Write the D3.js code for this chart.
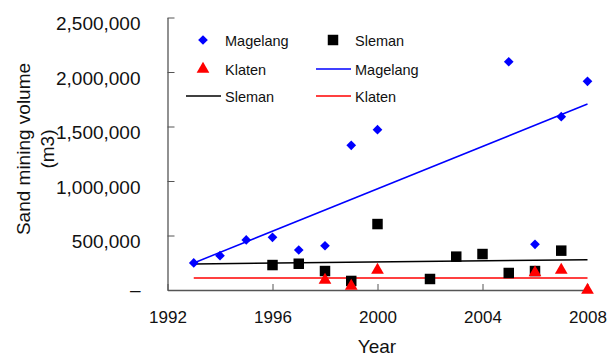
<!DOCTYPE html>
<html>
<head>
<meta charset="utf-8">
<script src="https://cdn.jsdelivr.net/npm/d3@7"></script>
<style>
  body { margin: 0; background: #fff; }
  text { font-family: "Liberation Sans", Arial, sans-serif; fill: #111; }
</style>
</head>
<body>
<div id="chart"></div>
<script>
// values
var magelangYears = [1993, 1994, 1995, 1996, 1997, 1998, 1999, 2000, 2005, 2006, 2007, 2008];
var magelangVals = [248000, 315000, 459000, 483000, 367000, 406000, 1327000, 1471000, 2094000, 419000, 1590000, 1914000];

var slemanYears = [1996, 1997, 1998, 1999, 2000, 2002, 2003, 2004, 2005, 2006, 2007];
var slemanVals = [229000, 241000, 174000, 83000, 605000, 101000, 306000, 330000, 156000, 174000, 361000];

var klatenYears = [1998, 1999, 2000, 2006, 2007, 2008];
var klatenVals = [92000, 37000, 183000, 159000, 183000, 0];

// trend lines, start and end (1993, 2008)
var trendYears = [1993, 2008];
var magelangTrend = [248000, 1706000];
var slemanTrend = [239000, 278000];
var klatenTrend = [110000, 110000];

var xTicks = [1992, 1996, 2000, 2004, 2008];
var yTicks = [0, 500000, 1000000, 1500000, 2000000, 2500000];

function sandChart() {
	var width = 607, height = 356;
	var left = 167.5, right = 587.5, top = 17.5, bottom = 290;

	var svg = d3.select('#chart').append('svg')
		.attr('width', width)
		.attr('height', height);

	var x = d3.scaleLinear().domain([1992, 2008]).range([left, right]);
	var y = d3.scaleLinear().domain([0, 2500000]).range([bottom, top]);

	// axes
	var yAxis = d3.axisLeft(y).tickValues(yTicks).tickSizeInner(-7).tickSizeOuter(0)
		.tickFormat(function(d) { return d === 0 ? '\u2013' : d3.format(',')(d); });
	var gy = svg.append('g').attr('transform', 'translate(' + left + ',0)').call(yAxis);
	gy.select('.domain').attr('stroke', '#555').attr('stroke-width', 1.3);
	gy.selectAll('.tick line').attr('stroke', '#555');
	gy.selectAll('.tick text').attr('x', -27).attr('font-size', 19)
		.attr('dy', function(d) { return d === 0 ? '0.3em' : '0.64em'; })
		.attr('font-family', '"Liberation Sans", Arial, sans-serif').attr('fill', '#111');

	var xAxis = d3.axisBottom(x).tickValues(xTicks).tickSizeInner(-6).tickSizeOuter(0)
		.tickFormat(d3.format('d'));
	var gx = svg.append('g').attr('transform', 'translate(0,' + bottom + ')').call(xAxis);
	gx.select('.domain').attr('stroke', '#555').attr('stroke-width', 1.3);
	gx.selectAll('.tick line').attr('stroke', '#555');
	gx.selectAll('.tick text').attr('y', 21).attr('font-size', 17)
		.attr('font-family', '"Liberation Sans", Arial, sans-serif').attr('fill', '#111');

	// titles
	svg.append('text').attr('x', 377).attr('y', 353).attr('text-anchor', 'middle')
		.attr('font-size', 19).text('Year');
	svg.append('text').attr('transform', 'translate(30,149) rotate(-90)')
		.attr('text-anchor', 'middle').attr('font-size', 19).text('Sand mining volume');
	svg.append('text').attr('transform', 'translate(54,149) rotate(-90)')
		.attr('text-anchor', 'middle').attr('font-size', 19).text('(m3)');

	// trend lines
	var line = d3.line().x(function(d) { return x(d[0]); }).y(function(d) { return y(d[1]); });
	var trends = [[magelangTrend, '#0000ff'], [slemanTrend, '#000'], [klatenTrend, '#ff0000']];
	trends.forEach(function(t) {
		svg.append('path').datum(d3.zip(trendYears, t[0]))
			.attr('d', line).attr('fill', 'none').attr('stroke', t[1]).attr('stroke-width', 1.5);
	});

	// markers
	var diamond = d3.symbol().type(d3.symbolDiamond2).size(60);
	var square = d3.symbol().type(d3.symbolSquare).size(110);
	var triangle = d3.symbol().type(d3.symbolTriangle).size(70);

	svg.append('g').selectAll('path').data(d3.zip(slemanYears, slemanVals)).join('path')
		.attr('transform', function(d) { return 'translate(' + x(d[0]) + ',' + y(d[1]) + ')'; })
		.attr('d', square).attr('fill', '#000');
	svg.append('g').selectAll('path').data(d3.zip(klatenYears, klatenVals)).join('path')
		.attr('transform', function(d) { return 'translate(' + x(d[0]) + ',' + y(d[1]) + ')'; })
		.attr('d', triangle).attr('fill', '#ff0000');
	svg.append('g').selectAll('path').data(d3.zip(magelangYears, magelangVals)).join('path')
		.attr('transform', function(d) { return 'translate(' + x(d[0]) + ',' + y(d[1]) + ')'; })
		.attr('d', diamond).attr('fill', '#0000ff');

	// legend
	var lg = svg.append('g');
	var items = [
		{kind: 'diamond', color: '#0000ff', label: 'Magelang', cx: 203, cy: 40},
		{kind: 'square', color: '#000', label: 'Sleman', cx: 333, cy: 40},
		{kind: 'triangle', color: '#ff0000', label: 'Klaten', cx: 203, cy: 69},
		{kind: 'line', color: '#0000ff', label: 'Magelang', cx: 333, cy: 69},
		{kind: 'line', color: '#000', label: 'Sleman', cx: 203, cy: 96},
		{kind: 'line', color: '#ff0000', label: 'Klaten', cx: 333, cy: 96}
	];
	items.forEach(function(it) {
		if (it.kind === 'line') {
			lg.append('line').attr('x1', it.cx - 17).attr('x2', it.cx + 18)
				.attr('y1', it.cy).attr('y2', it.cy).attr('stroke', it.color).attr('stroke-width', 1.5);
		} else {
			var sym = it.kind === 'diamond' ? diamond : it.kind === 'square' ? square : triangle;
			lg.append('path').attr('transform', 'translate(' + it.cx + ',' + it.cy + ')')
				.attr('d', sym).attr('fill', it.color);
		}
		lg.append('text').attr('x', it.cx + 22).attr('y', it.cy + 6)
			.attr('font-size', 14.5).text(it.label);
	});
}

sandChart();
</script>
</body>
</html>
